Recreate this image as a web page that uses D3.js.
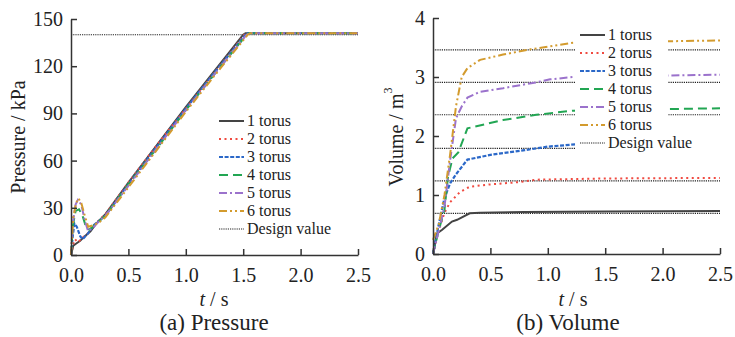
<!DOCTYPE html>
<html><head><meta charset="utf-8">
<script src="https://cdn.jsdelivr.net/npm/d3@7"></script>
<style>
body{margin:0;background:#fff}
svg{display:block;font-family:"Liberation Serif","Times New Roman",serif}
</style></head><body>
<svg id="c" width="735" height="337"></svg>
<script>
// ---------- data ----------
const seriesNames = ["1 torus","2 torus","3 torus","4 torus","5 torus","6 torus"];
const designName = "Design value";
const xTicks = [0,0.5,1.0,1.5,2.0,2.5];
const pTicks = [0,30,60,90,120,150];
const vTicks = [0,1,2,3,4];

const pressure1 = [[0,0],[0.02,6],[0.04,7],[0.08,9],[0.12,12],[0.17,15],[0.22,20],[0.3,26],[0.5,46],[0.75,70],[1.0,94],[1.25,117],[1.5,140],[1.52,141],[2.5,141]];
const pressure2 = [[0,0],[0.02,7],[0.035,10],[0.06,8],[0.1,11],[0.15,14],[0.2,19],[0.3,26],[0.5,46],[0.75,70],[1.0,93],[1.25,116],[1.51,140],[1.53,141],[2.5,141]];
const pressure3 = [[0,0],[0.015,12],[0.03,20],[0.05,18],[0.08,12],[0.1,10],[0.14,13],[0.2,19],[0.3,25],[0.5,45],[0.75,69],[1.0,93],[1.25,116],[1.52,140],[1.54,141],[2.5,141]];
const pressure4 = [[0,0],[0.015,18],[0.04,28],[0.07,29],[0.1,25],[0.13,18],[0.16,16],[0.22,20],[0.3,25],[0.5,45],[0.75,68],[1.0,92],[1.25,115],[1.53,140],[1.55,141],[2.5,141]];
const pressure5 = [[0,0],[0.015,20],[0.04,32],[0.06,35],[0.09,32],[0.12,22],[0.15,15],[0.2,18],[0.25,22],[0.3,25],[0.5,44],[0.75,68],[1.0,92],[1.25,115],[1.53,140],[1.55,141],[2.5,141]];
const pressure6 = [[0,0],[0.02,24],[0.045,33],[0.065,36],[0.09,33],[0.12,25],[0.15,18],[0.2,19],[0.25,21],[0.3,24],[0.5,43],[0.75,67],[1.0,91],[1.25,114],[1.54,140],[1.56,141],[2.5,141]];
const pressureDesign = [140];

const volume1 = [[0,0],[0.035,0.35],[0.08,0.41],[0.165,0.55],[0.21,0.58],[0.32,0.69],[0.41,0.70],[0.8,0.71],[1.5,0.72],[2.5,0.73]];
const volume2 = [[0,0],[0.05,0.4],[0.1,0.7],[0.15,0.88],[0.235,1.05],[0.32,1.14],[0.5,1.18],[0.76,1.22],[0.9,1.26],[1.5,1.28],[2.5,1.29]];
const volume3 = [[0,0],[0.05,0.5],[0.1,0.95],[0.15,1.2],[0.2,1.35],[0.3,1.6],[0.5,1.68],[0.8,1.76],[1.0,1.82],[1.25,1.86],[2.5,1.88]];
const volume4 = [[0,0],[0.05,0.4],[0.1,0.75],[0.13,1.3],[0.17,1.62],[0.22,1.72],[0.3,2.13],[0.61,2.27],[0.9,2.36],[1.22,2.43],[2.5,2.47]];
const volume5 = [[0,0],[0.05,0.4],[0.1,0.8],[0.15,1.6],[0.2,2.3],[0.25,2.5],[0.3,2.65],[0.41,2.75],[0.61,2.81],[0.9,2.91],[1.02,2.96],[1.22,3.0],[2.5,3.04]];
const volume6 = [[0,0.24],[0.05,0.5],[0.1,1.0],[0.15,1.7],[0.2,2.5],[0.25,3.0],[0.3,3.15],[0.41,3.29],[0.61,3.38],[0.85,3.47],[1.02,3.52],[1.22,3.58],[2.5,3.62]];
const volumeDesign = [0.69,1.24,1.79,2.36,2.91,3.46];

// ---------- styles ----------
const styles = [
  {color:"#444444", dash:null, w:2},
  {color:"#f04a40", dash:"2,3.5", w:2},
  {color:"#2b68c8", dash:"4,1.6", w:2.2},
  {color:"#22a653", dash:"9,5", w:2},
  {color:"#9b72cc", dash:"8,3,2,3", w:2},
  {color:"#d39b2e", dash:"8,3,2,3,2,3", w:2}
];
const designStyle = {color:"#222", dash:"1.2,1", w:1.2};

const svg = d3.select("#c");
const line = (x,y)=>d3.line().x(d=>x(d[0])).y(d=>y(d[1]));

function applyStyle(sel, s){
  sel.attr("fill","none").attr("stroke",s.color).attr("stroke-width",s.w)
     .attr("stroke-dasharray",s.dash);
}

function panel(opt){
  const x = d3.scaleLinear().domain([0,2.5]).range(opt.xr);
  const y = d3.scaleLinear().domain(opt.yd).range(opt.yr);
  const g = svg.append("g");
  const L = line(x,y);
  opt.design.forEach(v=>{
    g.append("path").datum([[0,v],[2.5,v]]).attr("d",L).call(applyStyle,designStyle);
  });
  opt.series.forEach((s,i)=>{
    g.append("path").datum(s).attr("d",L).call(applyStyle,styles[i]);
  });
  const xa = g.append("g").attr("transform",`translate(0,${opt.yr[0]})`)
    .call(d3.axisBottom(x).tickValues(xTicks).tickFormat(d3.format(".1f"))
      .tickSizeInner(-6).tickSizeOuter(0).tickPadding(13));
  const ya = g.append("g").attr("transform",`translate(${opt.xr[0]},0)`)
    .call(d3.axisLeft(y).tickValues(opt.yticks).tickFormat(d3.format("d"))
      .tickSizeInner(-6).tickSizeOuter(0).tickPadding(8));
  [xa,ya].forEach(a=>{
    a.selectAll("text").attr("font-size",20).attr("fill","#222")
      .attr("font-family","Liberation Serif");
    a.selectAll("line,path").attr("stroke","#333").attr("stroke-width",1.5);
  });
  g.append("text").attr("x",opt.tsx).attr("y",306).attr("text-anchor","middle")
    .attr("font-size",20).attr("fill","#222")
    .call(t=>{t.append("tspan").attr("font-style","italic").text("t");t.append("tspan").text(" / s");});
  g.append("text").attr("x",opt.capx).attr("y",330).attr("text-anchor","middle")
    .attr("font-size",23).attr("fill","#222").text(opt.caption);
  const yl = g.append("text").attr("transform",`translate(${opt.ylx},137) rotate(-90)`)
    .attr("text-anchor","middle").attr("font-size",20).attr("fill","#222");
  opt.ylabel(yl);
  // legend
  const lg = g.append("g");
  const rows = seriesNames.map((n,i)=>({name:n, s:styles[i]})).concat([{name:designName, s:designStyle}]);
  const bgA = lg.append("rect").attr("fill","#fff");
  const bgB = lg.append("rect").attr("fill","#fff");
  const items = rows.map((r,i)=>{
    const yy = opt.ly + i*18;
    const it = lg.append("g");
    it.append("line").attr("x1",opt.lx).attr("x2",opt.lx+25).attr("y1",yy).attr("y2",yy).call(applyStyle,r.s);
    const tx = it.append("text").attr("x",opt.lx+28).attr("y",yy).attr("dy","0.34em")
      .attr("font-size",16).attr("fill","#222").text(r.name);
    return tx;
  });
  let maxA = 0;
  items.slice(0,6).forEach(t=>{maxA=Math.max(maxA,t.node().getComputedTextLength());});
  const wD = items[6].node().getComputedTextLength();
  bgA.attr("x",opt.lx-5).attr("y",opt.ly-10).attr("width",Math.max(28+maxA+14, opt.legW)).attr("height",6*18);
  const endB = Math.max(opt.lx+28+wD+4, opt.xr[1]+2);
  bgB.attr("x",opt.lx-5).attr("y",opt.ly+6*18-10).attr("width",endB-(opt.lx-5)).attr("height",19);
}

panel({xr:[71,358], yr:[255,19], yd:[0,150], yticks:pTicks,
  series:[pressure1,pressure2,pressure3,pressure4,pressure5,pressure6],
  design:pressureDesign, caption:"(a) Pressure", capx:214, tsx:214, ylx:25,
  ylabel:t=>t.text("Pressure / kPa"), lx:219, ly:121, legW:0});

panel({xr:[433,720], yr:[254,18], yd:[0,4], yticks:vTicks,
  series:[volume1,volume2,volume3,volume4,volume5,volume6],
  design:volumeDesign, caption:"(b) Volume", capx:568, tsx:573, ylx:403,
  ylabel:t=>{t.append("tspan").text("Volume / m");t.append("tspan").attr("font-size",12).attr("dy","-0.9em").text("3");},
  lx:580, ly:35, legW:93});
</script></body></html>
